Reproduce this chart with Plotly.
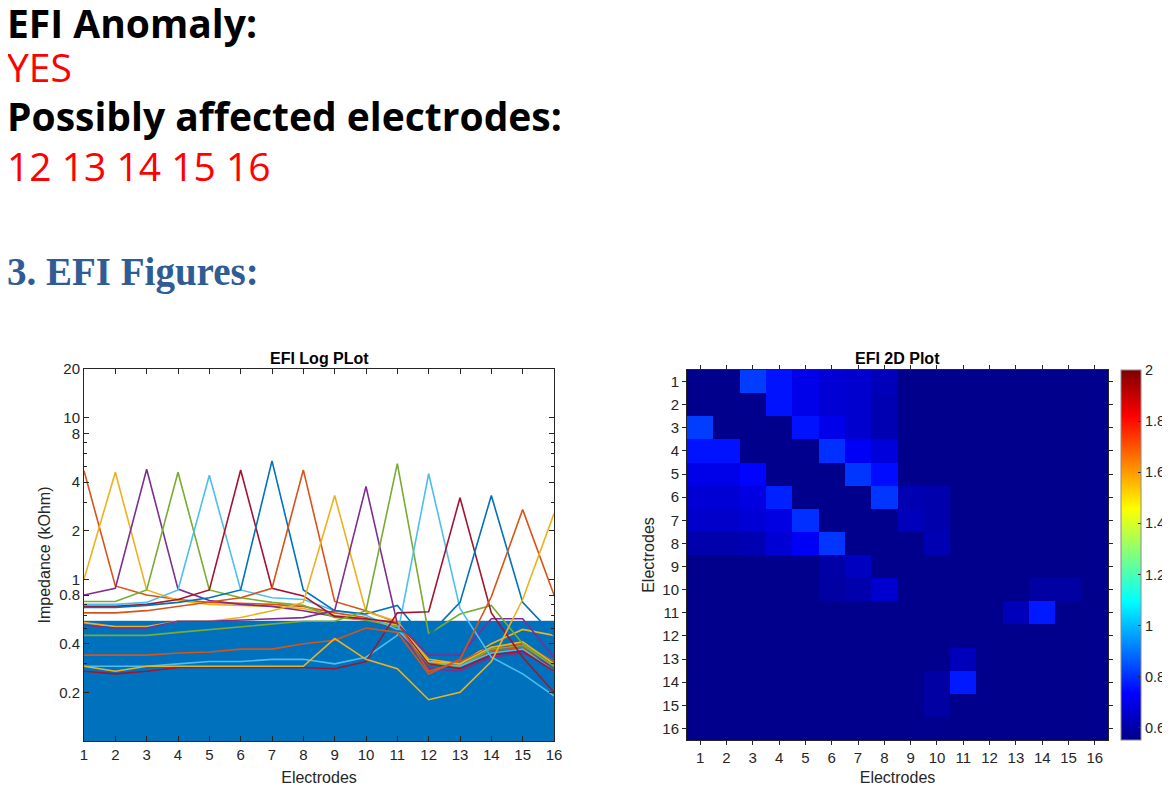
import plotly.graph_objects as go

# the page body adds an 8px margin, so the figure is 8px smaller than the window
PAGE_OFF = 8
W, H = 1170 - PAGE_OFF, 792 - PAGE_OFF

ELECTRODES = list(range(1, 17))

# MATLAB default colour order; line k uses ORDER[k % 7] (the blue area took index 0)
ORDER = ['#0072BD', '#D95319', '#EDB120', '#7E2F8E', '#77AC30', '#4DBEEE', '#A2142F']

# impedance (kOhm) per stimulating electrode, measured on electrodes 1..16
EFI_LINES = [
    [4.7, 0.91, 0.80, 0.75, 0.72, 0.71, 0.70, 0.68, 0.62, 0.58, 0.50, 0.30, 0.29, 0.36, 0.38, 0.27],
    [1.0, 4.6, 0.86, 0.74, 0.70, 0.69, 0.68, 0.66, 0.60, 0.57, 0.52, 0.32, 0.30, 0.40, 0.49, 0.45],
    [0.80, 0.88, 4.8, 0.87, 0.74, 0.70, 0.68, 0.64, 0.59, 0.56, 0.50, 0.28, 0.27, 0.33, 0.35, 0.29],
    [0.73, 0.73, 0.86, 4.6, 0.86, 0.77, 0.72, 0.69, 0.58, 0.56, 0.51, 0.30, 0.29, 0.37, 0.39, 0.29],
    [0.70, 0.70, 0.72, 0.86, 4.4, 0.86, 0.77, 0.75, 0.64, 0.60, 0.49, 0.31, 0.29, 0.35, 0.37, 0.27],
    [0.68, 0.68, 0.70, 0.75, 0.86, 4.75, 0.88, 0.79, 0.59, 0.57, 0.54, 0.30, 0.28, 0.34, 0.36, 0.27],
    [0.67, 0.67, 0.69, 0.72, 0.77, 0.86, 5.4, 0.86, 0.64, 0.61, 0.69, 0.40, 0.35, 0.38, 0.40, 0.30],
    [0.62, 0.62, 0.64, 0.68, 0.72, 0.77, 0.88, 4.75, 0.73, 0.64, 0.54, 0.27, 0.31, 0.38, 0.40, 0.31],
    [0.54, 0.51, 0.51, 0.55, 0.55, 0.58, 0.64, 0.72, 3.3, 0.63, 0.55, 0.31, 0.30, 0.38, 0.41, 0.30],
    [0.52, 0.50, 0.50, 0.55, 0.55, 0.56, 0.57, 0.58, 0.64, 3.75, 0.53, 0.34, 0.34, 0.57, 0.57, 0.33],
    [0.45, 0.45, 0.45, 0.47, 0.49, 0.51, 0.53, 0.55, 0.55, 0.64, 5.2, 0.46, 0.61, 0.69, 0.40, 0.29],
    [0.29, 0.29, 0.29, 0.30, 0.31, 0.31, 0.32, 0.32, 0.30, 0.33, 0.45, 4.5, 0.66, 0.33, 0.26, 0.19],
    [0.27, 0.26, 0.27, 0.285, 0.285, 0.285, 0.285, 0.285, 0.28, 0.31, 0.62, 0.63, 3.2, 0.62, 0.33, 0.20],
    [0.40, 0.40, 0.40, 0.41, 0.42, 0.43, 0.44, 0.45, 0.46, 0.47, 0.48, 0.45, 0.72, 3.3, 0.72, 0.45],
    [0.34, 0.34, 0.34, 0.35, 0.355, 0.37, 0.37, 0.40, 0.42, 0.50, 0.47, 0.26, 0.32, 0.78, 2.7, 0.80],
    [0.29, 0.27, 0.29, 0.29, 0.29, 0.29, 0.29, 0.29, 0.43, 0.32, 0.28, 0.18, 0.20, 0.31, 0.75, 2.55],
]

AREA_TOP = 0.55      # blue filled area upper level
AXIS_FLOOR = 0.1
Y_TICKS = [0.2, 0.4, 0.8, 1, 2, 4, 8, 10, 20]
Y_MINOR = [0.3, 0.5, 0.6, 0.7, 3, 5, 6, 7]

# EFI 2D map, rows = electrode 1..16 (top to bottom)
B = 0.56
EFI_MAP = [
    [B, B, 0.82, 0.76, 0.70, 0.67, 0.66, 0.63, B, B, B, B, B, B, B, B],
    [B, B, B, 0.76, 0.70, 0.67, 0.66, 0.62, B, B, B, B, B, B, B, B],
    [0.82, B, B, B, 0.76, 0.70, 0.66, 0.62, B, B, B, B, B, B, B, B],
    [0.76, 0.76, B, B, B, 0.80, 0.72, 0.68, B, B, B, B, B, B, B, B],
    [0.70, 0.70, 0.74, B, B, B, 0.81, 0.75, B, B, B, B, B, B, B, B],
    [0.67, 0.67, 0.69, 0.78, B, B, B, 0.81, 0.62, 0.61, B, B, B, B, B, B],
    [0.655, 0.655, 0.67, 0.69, 0.80, B, B, B, 0.63, 0.61, B, B, B, B, B, B],
    [0.61, 0.61, 0.62, 0.67, 0.72, 0.81, B, B, B, 0.62, B, B, B, B, B, B],
    [B, B, B, B, B, 0.60, 0.64, B, B, B, B, B, B, B, B, B],
    [B, B, B, B, B, 0.595, 0.61, 0.66, B, B, B, B, B, 0.595, 0.595, B],
    [B, B, B, B, B, B, B, B, B, B, B, B, 0.63, 0.77, B, B],
    [B, B, B, B, B, B, B, B, B, B, B, B, B, B, B, B],
    [B, B, B, B, B, B, B, B, B, B, 0.63, B, B, B, B, B],
    [B, B, B, B, B, B, B, B, B, 0.595, 0.77, B, B, B, B, B],
    [B, B, B, B, B, B, B, B, B, 0.595, B, B, B, B, B, B],
    [B, B, B, B, B, B, B, B, B, B, B, B, B, B, B, B],
]
C_MIN, C_MAX = 0.553, 2.0
CBAR_TICKS = [0.6, 0.8, 1, 1.2, 1.4, 1.6, 1.8, 2]

JET = [[0.0, '#000087'], [0.125, '#0000FF'], [0.375, '#00FFFF'],
       [0.625, '#FFFF00'], [0.875, '#FF0000'], [1.0, '#800000']]

AX_COL = '#262626'
FONT = 'Liberation Sans, Arial, sans-serif'


def px(x, y):
    """window pixel -> paper fraction"""
    return (x - PAGE_OFF) / W, 1 - (y - PAGE_OFF) / H


fig = go.Figure()

# blue area (MATLAB area plot), drawn first so the lines sit on it
fig.add_trace(go.Scatter(x=ELECTRODES, y=[AXIS_FLOOR] * 16, mode='lines',
                         line=dict(width=0, color='#0072BD'), showlegend=False,
                         hoverinfo='skip', xaxis='x', yaxis='y'))
fig.add_trace(go.Scatter(x=ELECTRODES, y=[AREA_TOP] * 16, mode='lines',
                         fill='tonexty', fillcolor='#0072BD',
                         line=dict(width=1, color='#0065A8'), showlegend=False,
                         hoverinfo='skip', xaxis='x', yaxis='y'))

for k, vals in enumerate(EFI_LINES, start=1):
    fig.add_trace(go.Scatter(x=ELECTRODES, y=vals, mode='lines',
                             line=dict(color=ORDER[k % 7], width=1.6),
                             name=f'E{k}', showlegend=False,
                             xaxis='x', yaxis='y'))

cb_x, cb_y = px(1121, 740)
fig.add_trace(go.Heatmap(
    z=EFI_MAP, x=ELECTRODES, y=ELECTRODES,
    colorscale=JET, zmin=C_MIN, zmax=C_MAX,
    xaxis='x2', yaxis='y2',
    colorbar=dict(x=cb_x, xanchor='left', xpad=0, ypad=0,
                  y=cb_y, yanchor='bottom', len=370 / H, lenmode='fraction',
                  thickness=20, thicknessmode='pixels',
                  outlinewidth=1, outlinecolor='#8a8a8a',
                  tickvals=CBAR_TICKS, ticktext=[f'{v:g}' for v in CBAR_TICKS],
                  ticks='inside', ticklen=3, tickcolor=AX_COL,
                  tickfont=dict(size=14.5, color=AX_COL, family=FONT)),
))

axis_common = dict(showline=True, linecolor=AX_COL, linewidth=1, mirror='allticks',
                   showgrid=False, zeroline=False, tickcolor=AX_COL, automargin=False,
                   tickfont=dict(size=15, color=AX_COL, family=FONT))

x0, yb = px(84, 741)
x1, yt = px(554, 369)
fig.update_layout(
    xaxis=dict(domain=[x0, x1], anchor='y', range=[1, 16], tickvals=ELECTRODES,
               ticks='inside', ticklen=5,
               title=dict(text='Electrodes', font=dict(size=16, color=AX_COL, family=FONT),
                          standoff=9),
               **axis_common),
    yaxis=dict(domain=[yb, yt], anchor='x', type='log', range=[-1, 1.30103],
               tickvals=Y_TICKS, ticktext=[f'{v:g}' for v in Y_TICKS],
               ticks='inside', ticklen=5,
               minor=dict(tickvals=Y_MINOR, ticks='inside', ticklen=3, tickcolor=AX_COL),
               title=dict(text='Impedance (kOhm)', font=dict(size=16, color=AX_COL, family=FONT),
                          standoff=4),
               **axis_common),
)

hx0, hyb = px(687, 740)
hx1, hyt = px(1108, 370)
fig.update_layout(
    xaxis2=dict(domain=[hx0, hx1], anchor='y2', range=[0.5, 16.5], tickvals=ELECTRODES,
                ticks='outside', ticklen=4,
                title=dict(text='Electrodes', font=dict(size=16, color=AX_COL, family=FONT),
                           standoff=6),
                **axis_common),
    yaxis2=dict(domain=[hyb, hyt], anchor='x2', range=[16.5, 0.5], tickvals=ELECTRODES,
                ticks='outside', ticklen=4,
                title=dict(text='Electrodes', font=dict(size=16, color=AX_COL, family=FONT),
                           standoff=3),
                **axis_common),
)

# report text above the figures (y = centre of the capitals)
annotations = [
    dict(text='<b>EFI Anomaly:</b>', y=22, color='#000000', font='Open Sans'),
    dict(text='YES', y=67, color='#FF0000', font='Open Sans'),
    dict(text='<b>Possibly affected electrodes:</b>', y=116, color='#000000', font='Open Sans'),
    dict(text='12 13 14 15 16', y=165, color='#FF0000', font='Open Sans'),
    dict(text='<b>3. EFI Figures:</b>', y=272, color='#2F5C94', font='Liberation Serif'),
]
anns = []
for a in annotations:
    ax, ay = px(6, a['y'])
    anns.append(dict(text=a['text'], x=ax, y=ay, xref='paper', yref='paper',
                     xanchor='left', yanchor='middle', showarrow=False, borderpad=0,
                     font=dict(size=39, color=a['color'], family=a['font'])))

for title, cx in [('EFI Log PLot', 319), ('EFI 2D Plot', 897)]:
    ax, ay = px(cx, 358)
    anns.append(dict(text=f'<b>{title}</b>', x=ax, y=ay, xref='paper', yref='paper',
                     xanchor='center', yanchor='middle', showarrow=False,
                     font=dict(size=16, color='#000000', family=FONT)))

fig.update_layout(
    width=W, height=H, margin=dict(l=0, r=0, t=0, b=0, autoexpand=False),
    paper_bgcolor='white', plot_bgcolor='white',
    annotations=anns, showlegend=False,
)

fig.write_html("out.html")
